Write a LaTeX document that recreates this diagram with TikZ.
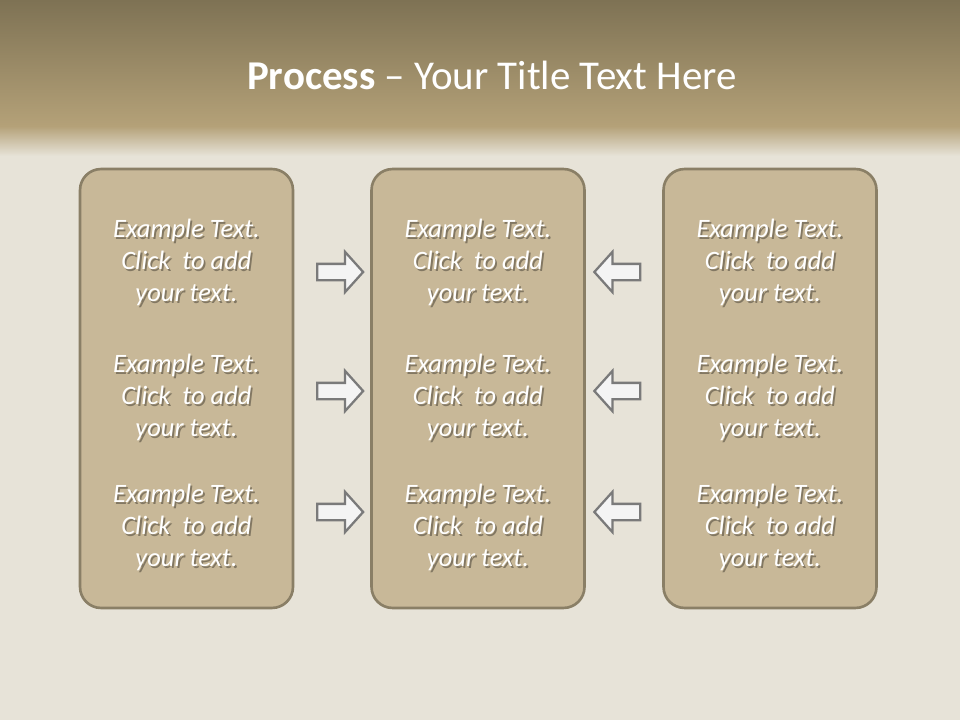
\documentclass[tikz,border=0pt]{standalone}
\usepackage{fontspec}
\setmainfont{Carlito}
\usetikzlibrary{shapes.arrows}

% couleurs
\definecolor{bandeHaut}{HTML}{7E7254}
\definecolor{bandeBas}{HTML}{B4A178}
\definecolor{toile}{HTML}{E7E3D8}
\definecolor{boite}{HTML}{C8B898}
\definecolor{bord}{HTML}{8A7F66}
\definecolor{fleche}{HTML}{F4F4F4}
\definecolor{flecheBord}{HTML}{7A7A7A}

\tikzset{
	colonne/.style={draw=bord, line width=1.5pt, fill=boite, rounded corners=0.42cm,
		minimum width=4.26cm, minimum height=8.78cm, inner sep=0},
	texte/.style={font=\fontsize{15.1}{18.2}\selectfont\itshape, text=white, align=center},
	ombre/.style={texte, text=black, text opacity=0.35},
	versDroite/.style={single arrow, draw=flecheBord, fill=fleche, line width=1.3pt,
		minimum height=0.92cm, inner xsep=0, inner ysep=0.14cm,
		single arrow head extend=0.24cm, single arrow head indent=0,
		single arrow tip angle=96},
	versGauche/.style={versDroite, shape border rotate=180},
}

\begin{document}
\begin{tikzpicture}[x=0.02cm,y=-0.02cm]
		% fond : toile claire et bandeau du titre
		\useasboundingbox (0,0) rectangle (960,720);
		\fill[toile] (0,0) rectangle (960,720);
		\shade[top color=bandeHaut, bottom color=bandeBas] (0,0) rectangle (960,126);
		\shade[top color=bandeBas, bottom color=toile] (0,126) rectangle (960,156);
		
		% titre
		\node[text=white, font=\fontsize{23.3}{28}\selectfont] (titre) at (492,75)
			{\textbf{Process} – Your Title Text Here};
		
		% les trois colonnes
		\node[colonne] (gauche) at (186.5,388.5) {};
		\node[colonne] (milieu) at (478,388.5) {};
		\node[colonne] (droite) at (770,388.5) {};
		
		% textes des colonnes (avec ombre portée)
		\foreach \col/\cx in {gauche/186.5, milieu/478, droite/770}{%
			\foreach \k/\cy in {1/262, 2/397, 3/527}{%
				\node[ombre] at (\cx+1.8,\cy+2) {Example Text.\\Click\ \ to add\\your text.};
				\node[texte] (t-\col-\k) at (\cx,\cy) {Example Text.\\Click\ \ to add\\your text.};
			}
		}
		
		% flèches vers la colonne du milieu
		\foreach \k/\cy in {1/272, 2/391, 3/512}{%
			\node[versDroite] (fd-\k) at (336.5,\cy) {};
			\node[versGauche] (fg-\k) at (621,\cy) {};
		}
	\end{tikzpicture}
\end{document}
